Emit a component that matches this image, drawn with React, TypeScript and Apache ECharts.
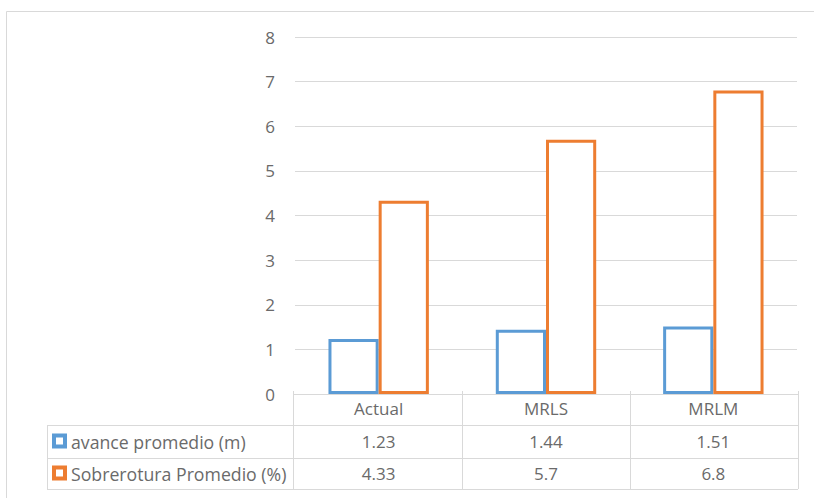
import React, { useEffect, useRef } from "react";
import * as echarts from "echarts";

const categories = ["Actual", "MRLS", "MRLM"];
const seriesNames = ["avance promedio (m)", "Sobrerotura Promedio (%)"];
const avanceValues = [1.23, 1.44, 1.51];
const sobreroturaValues = [4.33, 5.7, 6.8];
const tableTexts = [
  ["1.23", "1.44", "1.51"],
  ["4.33", "5.7", "6.8"],
];
const colors = ["#5B9BD5", "#ED7D31"];

const FONT = "'Open Sans', 'Noto Sans', sans-serif";
const TEXT = "#6a6a6a";
const LINE = "#d9d9d9";

export default function App() {
  const ref = useRef<HTMLDivElement>(null);
  useEffect(() => {
    if (!ref.current) return;
    const chart = echarts.init(ref.current, null, { renderer: "svg" });
    const gridLeft = 295;
    const gridRight = 17;
    const gridTop = 37;
    const gridBottom = 104;
    const W = 814;
    chart.setOption({
      animation: false,
      backgroundColor: "#ffffff",
      grid: { left: gridLeft, right: gridRight, top: gridTop, bottom: gridBottom },
      xAxis: {
        type: "category",
        data: categories,
        axisLine: { show: true, lineStyle: { color: LINE, width: 1 } },
        axisTick: { show: false },
        axisLabel: { color: TEXT, fontFamily: FONT, fontSize: 17, margin: 6 },
      },
      yAxis: {
        type: "value",
        min: 0,
        max: 8,
        interval: 1,
        axisLine: { show: false },
        axisTick: { show: false },
        splitLine: { lineStyle: { color: LINE, width: 1 } },
        axisLabel: { color: TEXT, fontFamily: FONT, fontSize: 17, margin: 20 },
      },
      series: [
        {
          name: seriesNames[0],
          type: "bar",
          data: avanceValues,
          barGap: "0%",
          barCategoryGap: "40%",
          itemStyle: { color: "#ffffff", borderColor: colors[0], borderWidth: 3 },
        },
        {
          name: seriesNames[1],
          type: "bar",
          data: sobreroturaValues,
          barGap: "0%",
          barCategoryGap: "40%",
          itemStyle: { color: "#ffffff", borderColor: colors[1], borderWidth: 3 },
        },
      ],
    });

    const x0 = gridLeft - 2;
    const x3 = W - gridRight + 1;
    const yTop = 394;
    const rowY = [394, 425, 458, 489];
    const tableLeft = 47;
    const colEdges = [x0];
    for (let i = 0; i < categories.length; i++) {
      const c = chart.convertToPixel({ xAxisIndex: 0 }, i) as number;
      const next = i < categories.length - 1 ? (chart.convertToPixel({ xAxisIndex: 0 }, i + 1) as number) : null;
      if (next !== null) colEdges.push((c + next) / 2);
    }
    colEdges.push(x3);

    const g: any[] = [];
    g.push({
      type: "rect",
      shape: { x: 6.5, y: 11.5, width: 900, height: 600 },
      style: { fill: "none", stroke: LINE, lineWidth: 1 },
      z: 0,
    });
    g.push({ type: "line", shape: { x1: x0, y1: rowY[0] + 0.5, x2: x3, y2: rowY[0] + 0.5 }, style: { stroke: LINE, lineWidth: 1 } });
    for (let r = 1; r < rowY.length; r++) {
      g.push({ type: "line", shape: { x1: tableLeft, y1: rowY[r] + 0.5, x2: x3, y2: rowY[r] + 0.5 }, style: { stroke: LINE, lineWidth: 1 } });
    }
    g.push({ type: "line", shape: { x1: tableLeft + 0.5, y1: rowY[1], x2: tableLeft + 0.5, y2: rowY[3] }, style: { stroke: LINE, lineWidth: 1 } });
    colEdges.forEach((x) => {
      const xx = Math.round(x) + 0.5;
      g.push({ type: "line", shape: { x1: xx, y1: yTop - 3, x2: xx, y2: rowY[3] }, style: { stroke: LINE, lineWidth: 1 } });
    });
    for (let r = 0; r < 2; r++) {
      const cy = (rowY[r + 1] + rowY[r + 2]) / 2;
      g.push({
        type: "rect",
        shape: { x: 54, y: cy - 6, width: 11, height: 11 },
        style: { fill: "#ffffff", stroke: colors[r], lineWidth: 4 },
      });
      g.push({
        type: "text",
        x: 71,
        y: cy,
        style: { text: seriesNames[r], fill: TEXT, font: `17.7px ${FONT}`, align: "left", verticalAlign: "middle" },
      });
      for (let i = 0; i < categories.length; i++) {
        const cx = chart.convertToPixel({ xAxisIndex: 0 }, i) as number;
        g.push({
          type: "text",
          x: cx,
          y: cy,
          style: { text: tableTexts[r][i], fill: TEXT, font: `17px ${FONT}`, align: "center", verticalAlign: "middle" },
        });
      }
    }
    chart.setOption({ graphic: g });
    return () => chart.dispose();
  }, []);
  return <div ref={ref} style={{ position: "fixed", left: 0, top: 0, width: 814, height: 498 }} />;
}
